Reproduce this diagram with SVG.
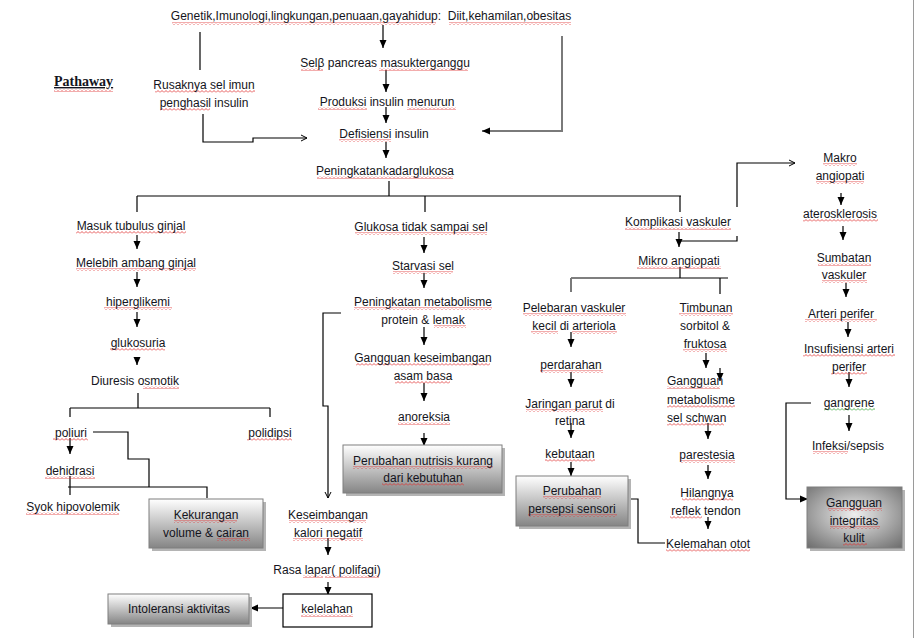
<svg xmlns="http://www.w3.org/2000/svg" width="915" height="638" viewBox="0 0 915 638">
<style>
text{font-family:"Liberation Sans",Arial,sans-serif;font-size:12px;fill:#141420;text-anchor:middle}
.t{font-family:"Liberation Serif","Times New Roman",serif;font-weight:bold;font-size:14px;text-anchor:start;text-decoration:underline}
.c line,.c polyline{stroke:#000;stroke-width:1.2;fill:none}
.c .gr{stroke:#7a7a7a;stroke-width:2}
.box{fill:url(#gv);stroke:#7f7f7f;stroke-width:1}
.sh{fill:#b4b4b4}
.sp rect{fill:url(#wv);height:3px}
.sp .gn{fill:url(#wg)}
</style>
<defs>
<linearGradient id="gv" x1="0" y1="0" x2="0" y2="1"><stop offset="0" stop-color="#ffffff"/><stop offset="1" stop-color="#858585"/></linearGradient>
<radialGradient id="gr" cx="0.5" cy="0.45" r="0.75"><stop offset="0" stop-color="#eeeeee"/><stop offset="1" stop-color="#6a6a6a"/></radialGradient>
<pattern id="wv" patternUnits="userSpaceOnUse" width="4" height="3"><path d="M0,2.5 L2,0.5 L4,2.5" fill="none" stroke="#e03030" stroke-width="0.8"/></pattern>
<pattern id="wg" patternUnits="userSpaceOnUse" width="4" height="3"><path d="M0,2.5 L2,0.5 L4,2.5" fill="none" stroke="#30a030" stroke-width="0.8"/></pattern>
<marker id="a" markerWidth="8" markerHeight="8" refX="8" refY="4" orient="auto" markerUnits="userSpaceOnUse"><path d="M0,0.5 L8,4 L0,7.5 z" fill="#000"/></marker>
<marker id="o" markerWidth="8" markerHeight="8" refX="7" refY="4" orient="auto" markerUnits="userSpaceOnUse"><path d="M1,1 L7,4 L1,7" fill="none" stroke="#000" stroke-width="1"/></marker>
</defs>
<rect width="915" height="638" fill="#fff"/>
<line x1="913.5" y1="0" x2="913.5" y2="638" stroke="#9a9a9a" stroke-width="1"/>

<g id="connectors" class="c">
<line x1="383" y1="25" x2="383" y2="48" marker-end="url(#a)"/>
<line x1="386" y1="70" x2="386" y2="92" marker-end="url(#a)"/>
<line x1="386" y1="107" x2="386" y2="123" marker-end="url(#a)"/>
<line x1="200" y1="32" x2="200" y2="70"/>
<polyline points="203,114 203,142 253,142 253,138 307,138" marker-end="url(#o)"/>
<polyline class="gr" points="562,36 562,131 482,131" marker-end="url(#a)"/>
<line x1="386" y1="142" x2="386" y2="158" marker-end="url(#a)"/>
<line x1="389" y1="181" x2="389" y2="196"/>
<line x1="137" y1="196" x2="681" y2="196"/>
<line x1="137" y1="196" x2="137" y2="212"/>
<line x1="425" y1="196" x2="425" y2="212"/>
<line x1="680" y1="196" x2="680" y2="212"/>
<line x1="137" y1="235" x2="137" y2="249" marker-end="url(#a)"/>
<line x1="137" y1="272" x2="137" y2="287" marker-end="url(#a)"/>
<line x1="137" y1="312" x2="137" y2="327" marker-end="url(#a)"/>
<line x1="137" y1="358" x2="137" y2="365" marker-end="url(#a)"/>
<line x1="138" y1="393" x2="138" y2="408"/>
<line x1="70" y1="408" x2="270" y2="408"/>
<line x1="70" y1="408" x2="70" y2="417"/>
<line x1="270" y1="408" x2="270" y2="417"/>
<polyline points="93,432 128,432 128,459 149,459 149,487"/>
<polyline points="68,487 207,487 207,498"/>
<line x1="70" y1="438" x2="70" y2="454" marker-end="url(#a)"/>
<line x1="70" y1="476" x2="70" y2="495"/>
<line x1="424" y1="237" x2="424" y2="253" marker-end="url(#a)"/>
<line x1="424" y1="273" x2="424" y2="288" marker-end="url(#a)"/>
<line x1="424" y1="327" x2="424" y2="345" marker-end="url(#a)"/>
<line x1="424" y1="383" x2="424" y2="401" marker-end="url(#a)"/>
<line x1="424" y1="433" x2="424" y2="446" marker-end="url(#a)"/>
<polyline points="341,313 323,313 323,406 328,406 328,498" marker-end="url(#o)"/>
<line x1="328" y1="538" x2="328" y2="555" marker-end="url(#a)"/>
<line x1="328" y1="582" x2="328" y2="595" marker-end="url(#a)"/>
<line x1="283" y1="608" x2="250" y2="608" marker-end="url(#a)"/>
<line x1="679" y1="232" x2="679" y2="247" marker-end="url(#a)"/>
<polyline points="737,207 737,163 795,163" marker-end="url(#o)"/>
<polyline points="737,236 737,241 679,241"/>
<line x1="680" y1="267" x2="680" y2="278"/>
<line x1="571" y1="278" x2="728" y2="278"/>
<line class="gr" x1="571" y1="278" x2="571" y2="292"/>
<line x1="720" y1="278" x2="720" y2="294"/>
<line x1="571" y1="332" x2="571" y2="347" marker-end="url(#a)"/>
<line x1="571" y1="372" x2="571" y2="387" marker-end="url(#a)"/>
<line x1="571" y1="423" x2="571" y2="438" marker-end="url(#a)"/>
<line x1="571" y1="462" x2="571" y2="476" marker-end="url(#a)"/>
<line x1="706" y1="353" x2="706" y2="368" marker-end="url(#a)"/>
<line x1="720" y1="368" x2="720" y2="381" marker-end="url(#a)"/>
<line x1="708" y1="423" x2="708" y2="439" marker-end="url(#a)"/>
<line x1="708" y1="465" x2="708" y2="479" marker-end="url(#a)"/>
<line x1="708" y1="517" x2="708" y2="529" marker-end="url(#a)"/>
<polyline points="665,543 638,543 638,499 615,499" marker-end="url(#o)"/>
<line x1="841" y1="193" x2="841" y2="205" marker-end="url(#a)"/>
<line x1="843" y1="226" x2="843" y2="240" marker-end="url(#a)"/>
<line x1="846" y1="283" x2="846" y2="297" marker-end="url(#a)"/>
<line x1="848" y1="322" x2="848" y2="337" marker-end="url(#a)"/>
<line x1="849" y1="372" x2="849" y2="387" marker-end="url(#a)"/>
<line x1="849" y1="415" x2="849" y2="431" marker-end="url(#a)"/>
<polyline points="811,403 786,403 786,499 808,499" marker-end="url(#a)"/>
</g>

<g id="n-kekurangan-box"><rect class="sh" x="152" y="502" width="114" height="49"/><rect class="box" x="149" y="499" width="114" height="49"/></g>
<g id="n-nutrisi-box"><rect class="sh" x="346" y="448" width="159" height="48"/><rect class="box" x="343" y="445" width="159" height="48"/></g>
<g id="n-intoleransi-box"><rect class="sh" x="111" y="597" width="141" height="30"/><rect class="box" x="108" y="594" width="141" height="30"/></g>
<g id="n-kelelahan-box"><rect x="283" y="594" width="89" height="33" fill="#fff" stroke="#000" stroke-width="1.2"/></g>
<g id="n-persepsi-box"><rect class="sh" x="519" y="479" width="112" height="50"/><rect class="box" x="516" y="476" width="112" height="50"/></g>
<g id="n-integritas-box"><rect class="sh" x="810" y="490" width="95" height="61"/><rect x="807" y="487" width="95" height="61" fill="url(#gr)" stroke="#7f7f7f" stroke-width="1"/></g>

<g id="spellcheck" class="sp">
<rect x="54" y="89" width="59"/>
<rect x="172" y="22" width="264"/><rect x="449" y="22" width="122"/>
<rect x="155" y="90" width="100"/><rect x="160" y="108" width="50"/>
<rect x="301" y="68" width="22"/><rect x="379" y="68" width="89"/>
<rect x="318" y="107" width="49"/><rect x="407" y="107" width="49"/>
<rect x="339" y="139" width="52"/>
<rect x="317" y="176" width="136"/>
<rect x="76" y="231" width="110"/>
<rect x="76" y="268" width="120"/>
<rect x="104" y="307" width="68"/>
<rect x="110" y="348" width="55"/>
<rect x="143" y="386" width="36"/>
<rect x="53" y="438" width="35"/><rect x="247" y="438" width="45"/>
<rect x="45" y="476" width="50"/>
<rect x="26" y="512" width="93"/>
<rect x="174" y="520" width="63"/><rect x="217" y="538" width="33"/>
<rect x="355" y="232" width="132"/>
<rect x="393" y="271" width="60"/>
<rect x="354" y="307" width="138"/><rect x="434" y="325" width="32"/>
<rect x="356" y="363" width="134"/><rect x="395" y="381" width="55"/>
<rect x="398" y="422" width="52"/>
<rect x="353" y="466" width="140"/><rect x="382" y="483" width="82"/>
<rect x="289" y="520" width="77"/><rect x="293" y="538" width="70"/>
<rect x="303" y="575" width="20"/><rect x="325" y="575" width="54"/>
<rect x="301" y="614" width="52"/>
<rect x="625" y="227" width="106"/>
<rect x="637" y="266" width="84"/>
<rect x="523" y="313" width="103"/><rect x="531" y="331" width="27"/><rect x="572" y="331" width="45"/>
<rect x="540" y="370" width="63"/>
<rect x="526" y="409" width="77"/>
<rect x="545" y="459" width="50"/>
<rect x="543" y="496" width="58"/><rect x="528" y="514" width="89"/>
<rect x="679" y="313" width="54"/><rect x="683" y="349" width="44"/>
<rect x="667" y="386" width="53"/><rect x="667" y="405" width="68"/><rect x="667" y="423" width="57"/>
<rect x="680" y="460" width="55"/>
<rect x="682" y="498" width="51"/><rect x="670" y="516" width="32"/>
<rect x="666" y="549" width="84"/>
<rect x="823" y="163" width="34"/><rect x="816" y="181" width="48"/>
<rect x="803" y="219" width="75"/>
<rect x="818" y="263" width="53"/><rect x="822" y="280" width="45"/>
<rect x="805" y="319" width="72"/>
<rect x="803" y="354" width="92"/><rect x="831" y="372" width="36"/>
<rect class="gn" x="824" y="408" width="51"/>
<rect x="813" y="451" width="35"/>
<rect x="828" y="508" width="54"/><rect x="830" y="526" width="50"/><rect x="843" y="543" width="24"/>
</g>

<g id="title"><text class="t" x="54" y="86">Pathaway</text></g>
<g id="n-causes"><text x="371" y="20">Genetik,Imunologi,lingkungan,penuaan,gayahidup:&#160; Diit,kehamilan,obesitas</text></g>
<g id="n-rusak"><text x="204" y="89">Rusaknya sel imun</text><text x="204" y="107">penghasil insulin</text></g>
<g id="n-sel"><text x="385" y="67">Selβ pancreas masukterganggu</text></g>
<g id="n-produksi"><text x="387" y="106">Produksi insulin menurun</text></g>
<g id="n-defisiensi"><text x="384" y="138">Defisiensi insulin</text></g>
<g id="n-kadar"><text x="385" y="175">Peningkatankadarglukosa</text></g>

<g id="n-masuk"><text x="131" y="230">Masuk tubulus ginjal</text></g>
<g id="n-melebih"><text x="136" y="267">Melebih ambang ginjal</text></g>
<g id="n-hiper"><text x="138" y="306">hiperglikemi</text></g>
<g id="n-gluko"><text x="138" y="347">glukosuria</text></g>
<g id="n-diuresis"><text x="135" y="385">Diuresis osmotik</text></g>
<g id="n-poliuri"><text x="71" y="437">poliuri</text></g>
<g id="n-polidipsi"><text x="270" y="437">polidipsi</text></g>
<g id="n-dehidrasi"><text x="70" y="475">dehidrasi</text></g>
<g id="n-syok"><text x="73" y="511">Syok hipovolemik</text></g>
<g id="n-kekurangan"><text x="206" y="519">Kekurangan</text><text x="206" y="537">volume &amp; cairan</text></g>

<g id="n-glukosa"><text x="421" y="231">Glukosa tidak sampai sel</text></g>
<g id="n-starvasi"><text x="423" y="270">Starvasi sel</text></g>
<g id="n-metab"><text x="423" y="306">Peningkatan metabolisme</text><text x="423" y="324">protein &amp; lemak</text></g>
<g id="n-gangguan-asam"><text x="423" y="362">Gangguan keseimbangan</text><text x="423" y="380">asam basa</text></g>
<g id="n-anoreksia"><text x="424" y="421">anoreksia</text></g>
<g id="n-nutrisi"><text x="423" y="465">Perubahan nutrisis kurang</text><text x="423" y="482">dari kebutuhan</text></g>
<g id="n-kalori"><text x="328" y="519">Keseimbangan</text><text x="328" y="537">kalori negatif</text></g>
<g id="n-lapar"><text x="327" y="574">Rasa lapar( polifagi)</text></g>
<g id="n-kelelahan"><text x="327" y="613">kelelahan</text></g>
<g id="n-intoleransi"><text x="179" y="613">Intoleransi aktivitas</text></g>

<g id="n-komplikasi"><text x="678" y="226">Komplikasi vaskuler</text></g>
<g id="n-mikro"><text x="679" y="265">Mikro angiopati</text></g>
<g id="n-pelebaran"><text x="574" y="312">Pelebaran vaskuler</text><text x="574" y="330">kecil di arteriola</text></g>
<g id="n-perdarahan"><text x="571" y="369">perdarahan</text></g>
<g id="n-jaringan"><text x="570" y="408">Jaringan parut di</text><text x="570" y="425">retina</text></g>
<g id="n-kebutaan"><text x="570" y="458">kebutaan</text></g>
<g id="n-persepsi"><text x="572" y="495">Perubahan</text><text x="572" y="513">persepsi sensori</text></g>
<g id="n-timbunan"><text x="706" y="312">Timbunan</text><text x="705" y="330">sorbitol &amp;</text><text x="705" y="348">fruktosa</text></g>
<g id="n-schwan"><text x="667" y="385" style="text-anchor:start">Gangguan</text><text x="667" y="404" style="text-anchor:start">metabolisme</text><text x="667" y="422" style="text-anchor:start">sel schwan</text></g>
<g id="n-parestesia"><text x="707" y="459">parestesia</text></g>
<g id="n-hilangnya"><text x="707" y="497">Hilangnya</text><text x="706" y="515">reflek tendon</text></g>
<g id="n-kelemahan"><text x="708" y="548">Kelemahan otot</text></g>

<g id="n-makro"><text x="840" y="162">Makro</text><text x="840" y="180">angiopati</text></g>
<g id="n-atero"><text x="840" y="218">aterosklerosis</text></g>
<g id="n-sumbatan"><text x="844" y="262">Sumbatan</text><text x="844" y="279">vaskuler</text></g>
<g id="n-arteri"><text x="841" y="318">Arteri perifer</text></g>
<g id="n-insuf"><text x="849" y="353">Insufisiensi arteri</text><text x="849" y="371">perifer</text></g>
<g id="n-gangrene"><text x="849" y="407">gangrene</text></g>
<g id="n-infeksi"><text x="848" y="450">Infeksi/sepsis</text></g>
<g id="n-integritas"><text x="854" y="507">Gangguan</text><text x="854" y="525">integritas</text><text x="854" y="542">kulit</text></g>
</svg>
